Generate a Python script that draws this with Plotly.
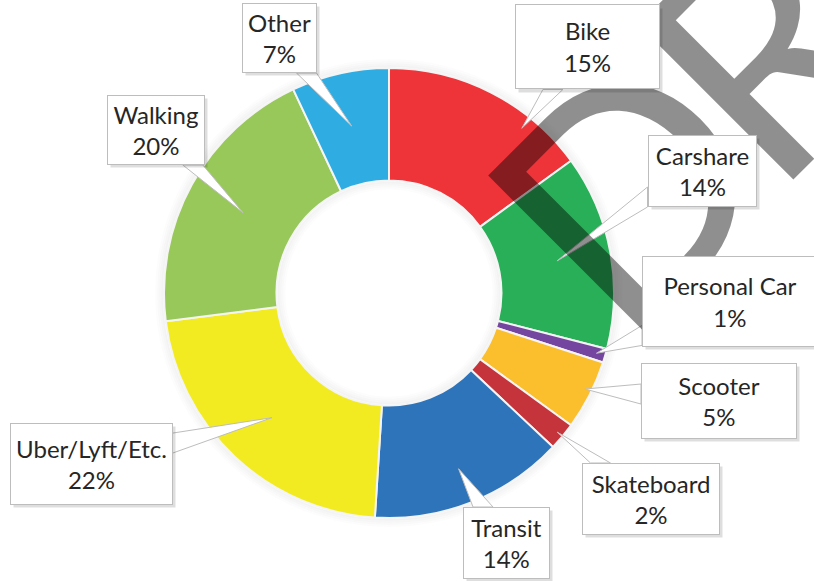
import math
import plotly.graph_objects as go

labels = ["Bike", "Carshare", "Personal Car", "Scooter", "Skateboard",
          "Transit", "Uber/Lyft/Etc.", "Walking", "Other"]
shares = [15, 14, 1, 5, 2, 14, 22, 20, 7]
colors = ["#EE3339", "#28AF58", "#7446A0", "#FBBE2D", "#C5333B",
          "#2E74BA", "#F3EB22", "#98C75A", "#2FADE3"]

W, H = 814, 581
CX, CY, R = 389, 293, 225   # donut centre / outer radius in px
HOLE = 0.5

# callout boxes: centre x, centre y, width, height (px)
boxes = {
    "Bike": (587, 47, 145, 85),
    "Carshare": (702, 171, 109, 72),
    "Personal Car": (730, 301, 176, 91),
    "Scooter": (719, 401, 156, 76),
    "Skateboard": (651, 499, 138, 72),
    "Transit": (506, 543, 87, 72),
    "Uber/Lyft/Etc.": (91, 464, 163, 82),
    "Walking": (156, 130, 98, 70),
    "Other": (279, 38, 75, 70),
}
# pointer tip: position along the slice (0..1), fraction of outer radius
tips = {
    "Bike": (0.72, 0.94),
    "Carshare": (0.5, 0.76),
    "Personal Car": (0.5, 0.96),
    "Scooter": (0.45, 0.97),
    "Skateboard": (0.5, 0.97),
    "Transit": (0.5, 0.84),
    "Uber/Lyft/Etc.": (0.5, 0.76),
    "Walking": (0.5, 0.74),
    "Other": (0.5, 0.76),
}

# watermark letters (only "DR" of the stamp falls on the page): centre px
stamp = [("D", 622, 185), ("R", 758, 48)]


def px(x, y):
    return x / W, 1 - y / H


fig = go.Figure()
fig.add_trace(go.Pie(
    labels=labels, values=shares, sort=False, direction="clockwise",
    hole=HOLE, textinfo="none", showlegend=False,
    marker=dict(colors=colors, line=dict(color="#F4F4F4", width=2)),
    domain=dict(x=[(CX - R) / W, (CX + R) / W], y=[1 - (CY + R) / H, 1 - (CY - R) / H]),
))

shapes = []
# soft shadow round the ring and inside the hole
for k in range(1, 5):
    for rad in (R + 2 * k, R * HOLE - 2 * k):
        x0, y0 = px(CX - rad, CY + rad)
        x1, y1 = px(CX + rad, CY - rad)
        shapes.append(dict(type="circle", xref="paper", yref="paper",
                           x0=x0, y0=y0, x1=x1, y1=y1, layer="below",
                           line=dict(color=f"rgba(0,0,0,{0.06 - 0.012 * k:.3f})", width=2)))

annotations = []
for ch, sx, sy in stamp:
    x, y = px(sx, sy)
    annotations.append(dict(
        text=ch, xref="paper", yref="paper", x=x, y=y, showarrow=False,
        xanchor="center", yanchor="middle", textangle=-45,
        font=dict(family="Lato", size=306, color="rgba(0,0,0,0.44)"),
    ))

total = sum(shares)
cum = 0
for lab, v in zip(labels, shares):
    frac, rf = tips[lab]
    ang = 2 * math.pi * (cum + v * frac) / total
    cum += v
    tx = CX + R * rf * math.sin(ang)
    ty = CY - R * rf * math.cos(ang)
    bx, by, bw, bh = boxes[lab]

    # where the line from box centre to tip leaves the box
    dx, dy = tx - bx, ty - by
    tx_e = (bw / 2) / abs(dx) if dx else 1e9
    ty_e = (bh / 2) / abs(dy) if dy else 1e9
    t = min(tx_e, ty_e)
    ex, ey = bx + t * dx, by + t * dy
    hw = 10
    if tx_e < ty_e:
        ey = min(max(ey, by - bh / 2 + hw), by + bh / 2 - hw)
        b1, b2 = (ex, ey - hw), (ex, ey + hw)
    else:
        ex = min(max(ex, bx - bw / 2 + hw), bx + bw / 2 - hw)
        b1, b2 = (ex - hw, ey), (ex + hw, ey)
    pts = [px(tx, ty), px(*b1), px(*b2)]
    path = "M {} {} L {} {} L {} {} Z".format(*[c for p in pts for c in p])
    shapes.append(dict(type="path", xref="paper", yref="paper", path=path,
                       fillcolor="white", line=dict(color="#BDBDBD", width=1),
                       layer="above"))

    sx, sy = px(bx + 3, by + 3)
    annotations.append(dict(
        text=" ", xref="paper", yref="paper", x=sx, y=sy, showarrow=False,
        xanchor="center", yanchor="middle",
        width=bw - 2, height=bh - 2, bgcolor="rgba(0,0,0,0.13)", borderpad=0,
    ))
    cx_, cy_ = px(bx, by)
    annotations.append(dict(
        text=f"{lab}<br>{v}%", xref="paper", yref="paper", x=cx_, y=cy_, showarrow=False,
        xanchor="center", yanchor="middle",
        width=bw - 2, height=bh - 2, bgcolor="white", bordercolor="#BDBDBD",
        borderwidth=1, borderpad=0,
        font=dict(family="Lato", size=24, color="#262626"),
    ))

fig.update_layout(
    width=W, height=H, margin=dict(l=0, r=0, t=0, b=0),
    paper_bgcolor="white", plot_bgcolor="white",
    annotations=annotations, shapes=shapes,
)
fig.write_html("out.html", config={"displayModeBar": False},
               post_script="document.body.style.margin='0px';")
